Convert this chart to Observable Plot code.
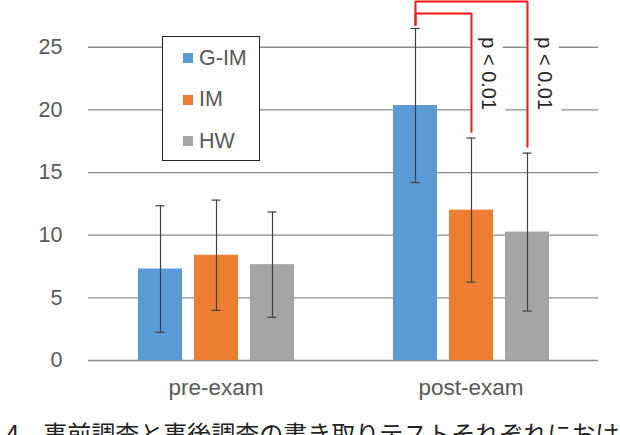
<!DOCTYPE html>
<html>
<head>
<meta charset="utf-8">
<script src="https://cdn.jsdelivr.net/npm/d3@7"></script>
<script src="https://cdn.jsdelivr.net/npm/@observablehq/plot@0.6"></script>
<style>
  body { margin: 0; background: #fff; }
  #wrap { position: relative; width: 620px; height: 435px; overflow: hidden; background: #fff;
          font-family: "Liberation Sans", Arial, sans-serif; }
  #chart svg { display: block; }
  #legend { position: absolute; left: 162px; top: 36px; width: 96px; height: 123px;
            border: 1.5px solid #222; background: #fff; }
  #legend .item { position: absolute; left: 20px; height: 24px; display: flex; align-items: center;
                  font-size: 21.5px; color: #595959; }
  #legend .sw { width: 10px; height: 10px; margin-right: 6px; }
  #caption { position: absolute; left: 6px; top: 421px; white-space: nowrap;
             font-family: "Noto Sans CJK JP", sans-serif; font-size: 24px; line-height: 1; color: #222; }
</style>
</head>
<body>
<div id="wrap">
  <div id="chart"></div>
  <div id="legend"></div>
  <div id="caption"></div>
</div>
<script>
// Survey phases, groups and their colours
const phases = ["pre-exam", "post-exam"];
const groups = ["G-IM", "IM", "HW"];
const colors = ["#5B9BD5", "#ED7D31", "#A5A5A5"];

// Mean dictation scores and standard deviations per group
const preMean = [7.3, 8.4, 7.65];
const preSD = [5.05, 4.4, 4.2];
const postMean = [20.35, 12.0, 10.25];
const postSD = [6.15, 5.75, 6.3];

const yTicks = [0, 5, 10, 15, 20, 25];

// Significance brackets between post-exam groups
const comparisons = [
  {from: "G-IM", to: "IM", level: 27.7, label: "p < 0.01"},
  {from: "G-IM", to: "HW", level: 28.65, label: "p < 0.01"}
];
const labelTop = 25.8;

const table = phases.flatMap((phase, i) => groups.map((group, j) => ({
  phase, group,
  mean: i === 0 ? preMean[j] : postMean[j],
  sd: i === 0 ? preSD[j] : postSD[j]
})));
const row = (phase, group) => table.find(d => d.phase === phase && d.group === group);

const bracketPoints = comparisons.flatMap((c, k) => {
  const a = row("post-exam", c.from), b = row("post-exam", c.to);
  return [
    {k, phase: "post-exam", group: c.from, v: a.mean + a.sd + 0.27},
    {k, phase: "post-exam", group: c.from, v: c.level},
    {k, phase: "post-exam", group: c.to, v: c.level},
    {k, phase: "post-exam", group: c.to, v: b.mean + b.sd + 0.5}
  ];
});
const bracketLabels = comparisons.map(c => ({phase: "post-exam", group: c.to, v: labelTop, text: c.label}));

const errStroke = "#404040";

const chart = Plot.plot({
  width: 620,
  height: 405,
  marginLeft: 87,
  marginRight: 22,
  marginTop: 0,
  marginBottom: 45,
  style: {fontFamily: "Liberation Sans, Arial, sans-serif", fontSize: "21.5px", color: "#595959", background: "white"},
  fx: {domain: phases, padding: 0, label: null},
  x: {domain: groups, axis: null, paddingInner: 0.221, paddingOuter: 0.872},
  y: {domain: [0, 28.73], axis: null},
  color: {domain: groups, range: colors},
  marks: [
    Plot.gridY(yTicks, {stroke: "#8c8c8c", strokeOpacity: 1, strokeWidth: 1.3}),
    Plot.axisY(yTicks, {tickSize: 0, tickPadding: 26, label: null, fontSize: 21.5, fill: "#595959"}),
    Plot.axisFx({anchor: "bottom", tickSize: 0, tickPadding: 19, label: null, fontSize: 22.5, fill: "#595959"}),
    Plot.barY(table, {fx: "phase", x: "group", y: "mean", fill: "group"}),
    Plot.ruleX(table, {fx: "phase", x: "group", y1: d => d.mean - d.sd, y2: d => d.mean + d.sd,
                       stroke: errStroke, strokeWidth: 1.2}),
    Plot.tickY(table, {fx: "phase", x: "group", y: d => d.mean - d.sd, insetLeft: 17.5, insetRight: 17.5,
                       stroke: errStroke, strokeWidth: 1.2}),
    Plot.tickY(table, {fx: "phase", x: "group", y: d => d.mean + d.sd, insetLeft: 17.5, insetRight: 17.5,
                       stroke: errStroke, strokeWidth: 1.2}),
    Plot.text(bracketLabels, {fx: "phase", x: "group", y: "v", text: "text", rotate: 90, textAnchor: "start",
                              dx: 17, fontSize: 20, fill: "#262626", stroke: "white", strokeWidth: 20}),
    Plot.line(bracketPoints, {fx: "phase", x: "group", y: "v", z: "k", stroke: "#ff1414", strokeWidth: 2,
                              strokeLinejoin: "miter", curve: "linear"})
  ]
});
document.getElementById("chart").append(chart);

// Boxed legend inside the plot area
const legend = document.getElementById("legend");
groups.forEach((g, i) => {
  const item = document.createElement("div");
  item.className = "item";
  item.style.top = (9 + i * 41.5) + "px";
  const sw = document.createElement("span");
  sw.className = "sw";
  sw.style.background = colors[i];
  const label = document.createElement("span");
  label.textContent = g;
  item.append(sw, label);
  legend.append(item);
});

document.getElementById("caption").textContent =
  "4\u3000事前調査と事後調査の書き取りテストそれぞれにおける平均値";
</script>
</body>
</html>
